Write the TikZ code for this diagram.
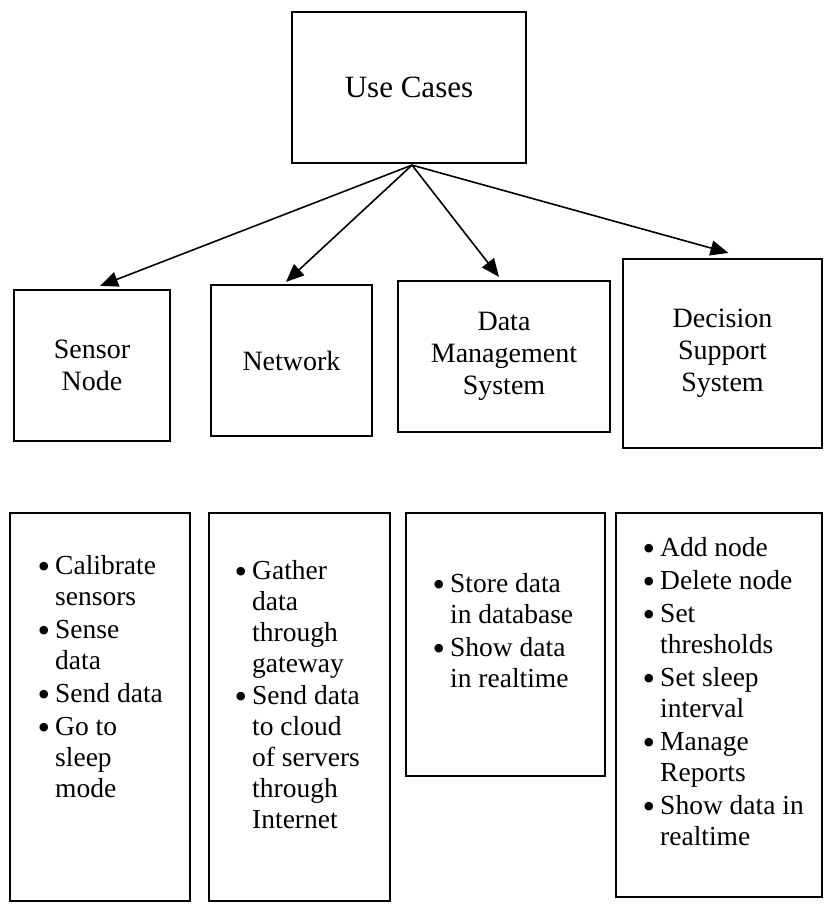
\documentclass[tikz,border=0pt]{standalone}
\usepackage{fontspec}
\setmainfont{Liberation Serif}
\usetikzlibrary{arrows.meta,calc}
\newcommand{\bl}{\llap{\raisebox{-4pt}{\scalebox{1.3}{\textbullet}}\hspace{5pt}}}
\begin{document}
\begin{tikzpicture}[x=1pt,y=-1pt,
  box/.style={draw,line width=2.2pt,inner sep=0pt,align=center,font=\fontsize{28}{32}\selectfont},
  list/.style={anchor=north west,inner sep=0pt,align=left,font=\fontsize{27.5}{31}\selectfont},
  arr/.style={line width=1.6pt,-{Triangle[length=18pt,width=15pt]}}]
\useasboundingbox (0,0) rectangle (824,904);
% top
\node[box,minimum width=234pt,minimum height=151pt,font=\fontsize{31}{34}\selectfont] (uc) at (409,87.5) {Use Cases};
\node[box,minimum width=156pt,minimum height=151pt] (sn) at (92,365.5) {Sensor\\Node};
\node[box,minimum width=161pt,minimum height=151pt] (nw) at (291.5,360.5) {Network};
\node[box,minimum width=212pt,minimum height=151pt] (dm) at (504,356.5) {Data\\Management\\System};
\node[box,minimum width=199pt,minimum height=189pt] (ds) at (722.5,353.5) {Decision\\Support\\System};
% arrows
\coordinate (o) at ($(uc.south)+(3,1)$);
\draw[arr] (o) -- ($(sn.north)+(8,-3)$);
\draw[arr] (o) -- ($(nw.north)+(-5.5,-2)$);
\draw[arr] (o) -- ($(dm.north)+(-5,-3)$);
\draw[arr] (o) -- ($(ds.north)+(6,-5)$);
% bottom boxes
\node[draw,line width=2.2pt,inner sep=0pt,minimum width=180pt,minimum height=388pt] (b1) at (100,707) {};
\node[draw,line width=2.2pt,inner sep=0pt,minimum width=181pt,minimum height=388pt] (b2) at (299.5,707) {};
\node[draw,line width=2.2pt,inner sep=0pt,minimum width=199pt,minimum height=263pt] (b3) at (505.5,644.5) {};
\node[draw,line width=2.2pt,inner sep=0pt,minimum width=206pt,minimum height=384pt] (b4) at (719,705) {};
% lists
\node[list] (t1) at (55,552) {\rule{0pt}{22pt}\bl Calibrate\\ sensors\\[2pt] \bl Sense\\ data\\[2pt] \bl Send data\\[2pt] \bl Go to\\ sleep\\ mode};
\node[list] (t2) at (252,557) {\rule{0pt}{22pt}\bl Gather\\ data\\ through\\ gateway\\[1pt] \bl Send data\\ to cloud\\ of servers\\ through\\ Internet};
\node[list] (t3) at (450,570) {\rule{0pt}{22pt}\bl Store data\\ in database\\[2pt] \bl Show data\\ in realtime};
\node[list] (t4) at (660,534) {\rule{0pt}{22pt}\bl Add node\\[2pt] \bl Delete node\\[2pt] \bl Set\\ thresholds\\[2pt] \bl Set sleep\\ interval\\[2pt] \bl Manage\\ Reports\\[2pt] \bl Show data in\\ realtime};
\end{tikzpicture}
\end{document}
